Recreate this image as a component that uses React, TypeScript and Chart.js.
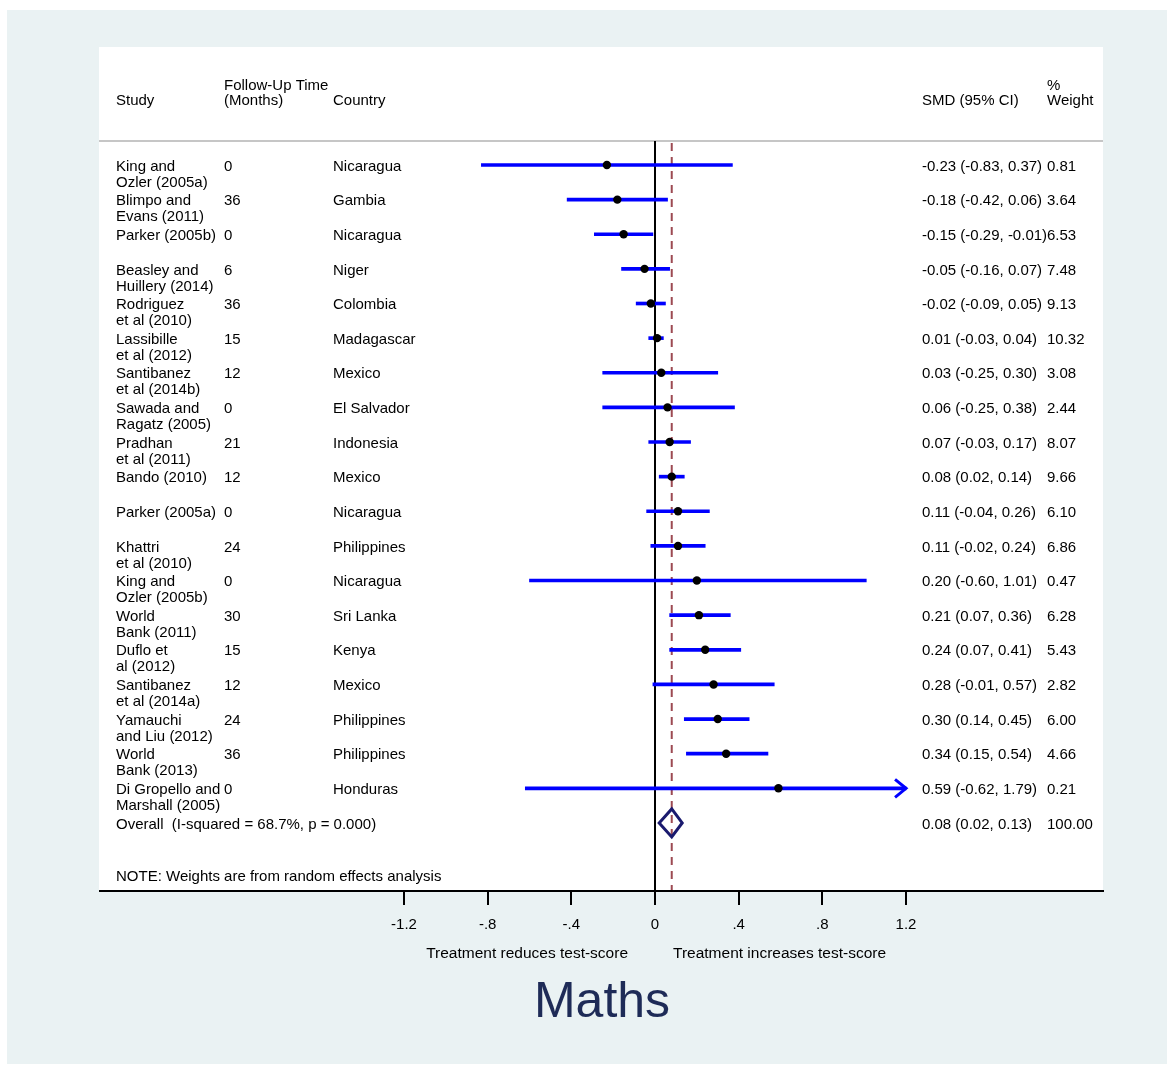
import React, { useEffect, useRef } from "react";
import { Chart, registerables } from "chart.js";

Chart.register(...registerables);

const STUDY_LABELS: string[][] = [
  ["King and", "Ozler (2005a)"],
  ["Blimpo and", "Evans (2011)"],
  ["Parker (2005b)"],
  ["Beasley and", "Huillery (2014)"],
  ["Rodriguez", "et al (2010)"],
  ["Lassibille", "et al (2012)"],
  ["Santibanez", "et al (2014b)"],
  ["Sawada and", "Ragatz (2005)"],
  ["Pradhan", "et al (2011)"],
  ["Bando (2010)"],
  ["Parker (2005a)"],
  ["Khattri", "et al (2010)"],
  ["King and", "Ozler (2005b)"],
  ["World", "Bank (2011)"],
  ["Duflo et", "al (2012)"],
  ["Santibanez", "et al (2014a)"],
  ["Yamauchi", "and Liu (2012)"],
  ["World", "Bank (2013)"],
  ["Di Gropello and", "Marshall (2005)"],
];
const FOLLOW_UP: number[] = [0, 36, 0, 6, 36, 15, 12, 0, 21, 12, 0, 24, 0, 30, 15, 12, 24, 36, 0];
const COUNTRIES: string[] = [
  "Nicaragua", "Gambia", "Nicaragua", "Niger", "Colombia", "Madagascar", "Mexico",
  "El Salvador", "Indonesia", "Mexico", "Nicaragua", "Philippines", "Nicaragua",
  "Sri Lanka", "Kenya", "Mexico", "Philippines", "Philippines", "Honduras",
];
const SMD: number[] = [-0.23, -0.18, -0.15, -0.05, -0.02, 0.01, 0.03, 0.06, 0.07, 0.08, 0.11, 0.11, 0.2, 0.21, 0.24, 0.28, 0.3, 0.34, 0.59];
const CI_LOW: number[] = [-0.83, -0.42, -0.29, -0.16, -0.09, -0.03, -0.25, -0.25, -0.03, 0.02, -0.04, -0.02, -0.6, 0.07, 0.07, -0.01, 0.14, 0.15, -0.62];
const CI_HIGH: number[] = [0.37, 0.06, -0.01, 0.07, 0.05, 0.04, 0.3, 0.38, 0.17, 0.14, 0.26, 0.24, 1.01, 0.36, 0.41, 0.57, 0.45, 0.54, 1.79];
const WEIGHTS: number[] = [0.81, 3.64, 6.53, 7.48, 9.13, 10.32, 3.08, 2.44, 8.07, 9.66, 6.1, 6.86, 0.47, 6.28, 5.43, 2.82, 6.0, 4.66, 0.21];

const OVERALL_LABEL = "Overall  (I-squared = 68.7%, p = 0.000)";
const OVERALL_SMD = 0.08;
const OVERALL_LOW = 0.02;
const OVERALL_HIGH = 0.13;
const OVERALL_WEIGHT = 100.0;

const NOTE_TEXT = "NOTE: Weights are from random effects analysis";
const X_TICKS: number[] = [-1.2, -0.8, -0.4, 0, 0.4, 0.8, 1.2];
const LEFT_SUBTITLE = "Treatment reduces test-score";
const RIGHT_SUBTITLE = "Treatment increases test-score";
const TITLE = "Maths";

const W = 1174;
const H = 1067;
const FONT = '"Liberation Sans", Arial, Helvetica, sans-serif';

const X_MIN = -2.653;
const X_MAX = 2.1415;
const Y_MIN = -3.407;
const Y_MAX = 20.965;
const SEP_ROW = -0.69;
const HEADER_ROW = -1.9;
const NOTE_ROW = 20.5;
const OVERALL_ROW = STUDY_LABELS.length;
const CLIP = X_TICKS[X_TICKS.length - 1];

const fmtTick = (v: number) => {
  if (Math.abs(v) < 1e-9) return "0";
  const s = Math.abs(v).toFixed(1).replace(/^0/, "");
  return (v < 0 ? "-" : "") + s;
};
const fmtCI = (e: number, l: number, h: number) => `${e.toFixed(2)} (${l.toFixed(2)}, ${h.toFixed(2)})`;

const forestPlugin = {
  id: "forestDecor",
  beforeDraw(chart: any) {
    const { ctx, chartArea: ca } = chart;
    const x = chart.scales.x;
    const y = chart.scales.y;
    ctx.save();
    ctx.fillStyle = "#ffffff";
    ctx.fillRect(0, 0, chart.width, chart.height);
    ctx.fillStyle = "#eaf2f3";
    ctx.fillRect(7, 10, 1160, 1054);
    ctx.fillStyle = "#ffffff";
    ctx.fillRect(ca.left - 1, ca.top, ca.right - ca.left + 1, ca.bottom - ca.top);
    const sepY = y.getPixelForValue(SEP_ROW);
    ctx.lineWidth = 2;
    ctx.strokeStyle = "#c6c6c6";
    ctx.beginPath();
    ctx.moveTo(ca.left - 1, sepY);
    ctx.lineTo(ca.right, sepY);
    ctx.stroke();
    const x0 = x.getPixelForValue(0);
    ctx.strokeStyle = "#000000";
    ctx.beginPath();
    ctx.moveTo(x0, sepY);
    ctx.lineTo(x0, ca.bottom);
    ctx.stroke();
    const xo = x.getPixelForValue(OVERALL_SMD);
    ctx.strokeStyle = "#9c4a52";
    ctx.setLineDash([8, 6]);
    ctx.beginPath();
    ctx.moveTo(xo, sepY + 2);
    ctx.lineTo(xo, ca.bottom);
    ctx.stroke();
    ctx.restore();
  },
  afterDatasetsDraw(chart: any) {
    const { ctx } = chart;
    const x = chart.scales.x;
    const y = chart.scales.y;
    ctx.save();
    ctx.strokeStyle = "#0000ff";
    ctx.lineWidth = 3;
    CI_HIGH.forEach((h, i) => {
      if (h > CLIP) {
        const tx = x.getPixelForValue(CLIP);
        const ty = y.getPixelForValue(i);
        ctx.beginPath();
        ctx.moveTo(tx - 11, ty - 9);
        ctx.lineTo(tx, ty);
        ctx.lineTo(tx - 11, ty + 9);
        ctx.stroke();
      }
    });
    const dy = y.getPixelForValue(OVERALL_ROW);
    ctx.strokeStyle = "#1a1a6e";
    ctx.lineWidth = 3;
    ctx.lineJoin = "miter";
    ctx.beginPath();
    ctx.moveTo(x.getPixelForValue(OVERALL_LOW), dy);
    ctx.lineTo(x.getPixelForValue(OVERALL_SMD), dy - 14);
    ctx.lineTo(x.getPixelForValue(OVERALL_HIGH), dy);
    ctx.lineTo(x.getPixelForValue(OVERALL_SMD), dy + 14);
    ctx.closePath();
    ctx.stroke();
    ctx.restore();
  },
  afterDraw(chart: any) {
    const { ctx, chartArea: ca } = chart;
    const x = chart.scales.x;
    const y = chart.scales.y;
    ctx.save();
    ctx.fillStyle = "#000000";
    ctx.font = `15px ${FONT}`;
    ctx.textBaseline = "middle";
    ctx.textAlign = "left";
    const dyText = 1.5;
    const cStudy = 116;
    const cFollow = 224;
    const cCountry = 333;
    const cSmd = 922;
    const cWeight = 1047;
    const hy = y.getPixelForValue(HEADER_ROW) + dyText;
    ctx.fillText("Study", cStudy, hy);
    ctx.fillText("Follow-Up Time", cFollow, hy - 15);
    ctx.fillText("(Months)", cFollow, hy);
    ctx.fillText("Country", cCountry, hy);
    ctx.fillText("SMD (95% CI)", cSmd, hy);
    ctx.fillText("%", cWeight, hy - 15);
    ctx.fillText("Weight", cWeight, hy);
    STUDY_LABELS.forEach((lines, i) => {
      const ry = y.getPixelForValue(i) + dyText;
      lines.forEach((t, k) => ctx.fillText(t, cStudy, ry + k * 16));
      ctx.fillText(String(FOLLOW_UP[i]), cFollow, ry);
      ctx.fillText(COUNTRIES[i], cCountry, ry);
      ctx.fillText(fmtCI(SMD[i], CI_LOW[i], CI_HIGH[i]), cSmd, ry);
      ctx.fillText(WEIGHTS[i].toFixed(2), cWeight, ry);
    });
    const oy = y.getPixelForValue(OVERALL_ROW) + dyText;
    ctx.fillText(OVERALL_LABEL, cStudy, oy);
    ctx.fillText(fmtCI(OVERALL_SMD, OVERALL_LOW, OVERALL_HIGH), cSmd, oy);
    ctx.fillText(OVERALL_WEIGHT.toFixed(2), cWeight, oy);
    ctx.fillText(NOTE_TEXT, cStudy, y.getPixelForValue(NOTE_ROW) + dyText);
    const x0 = x.getPixelForValue(0);
    const sy = ca.bottom + 63;
    ctx.font = `15.5px ${FONT}`;
    ctx.textAlign = "right";
    ctx.fillText(LEFT_SUBTITLE, x0 - 27, sy);
    ctx.textAlign = "left";
    ctx.fillText(RIGHT_SUBTITLE, x0 + 18, sy);
    ctx.fillStyle = "#1e2b57";
    ctx.font = `50px ${FONT}`;
    ctx.textAlign = "center";
    ctx.textBaseline = "alphabetic";
    ctx.fillText(TITLE, 602, 1017);
    ctx.restore();
  },
};

export default function App() {
  const ref = useRef<HTMLCanvasElement>(null);
  useEffect(() => {
    if (!ref.current) return;
    const chart = new Chart(ref.current, {
      type: "scatter",
      data: {
        datasets: [
          {
            type: "scatter",
            data: SMD.map((v, i) => ({ x: v, y: i })),
            pointRadius: 4.2,
            pointBackgroundColor: "#000000",
            pointBorderWidth: 0,
            order: 1,
          } as any,
          {
            type: "bar",
            indexAxis: "y",
            data: CI_LOW.map((lo, i) => ({ x: [lo, Math.min(CI_HIGH[i], CLIP)], y: i })),
            backgroundColor: "#0000ff",
            borderWidth: 0,
            borderSkipped: false,
            barThickness: 3,
            order: 2,
          } as any,
        ],
      },
      options: {
        responsive: false,
        animation: false,
        events: [],
        layout: { padding: { left: 100, right: W - 1103, top: 47, bottom: 0 } },
        plugins: { legend: { display: false }, tooltip: { enabled: false }, title: { display: false } },
        scales: {
          x: {
            type: "linear",
            position: "bottom",
            offset: false,
            min: X_MIN,
            max: X_MAX,
            afterBuildTicks: (s: any) => {
              s.ticks = X_TICKS.map((v) => ({ value: v }));
            },
            afterFit: (s: any) => {
              s.height = H - 891;
            },
            grid: {
              offset: false,
              drawOnChartArea: false,
              drawTicks: true,
              tickLength: 14,
              tickWidth: 2,
              tickColor: "#000000",
              color: "#000000",
              lineWidth: 2,
            },
            border: { display: true, color: "#000000", width: 2 },
            ticks: {
              font: { family: FONT, size: 15 },
              color: "#000000",
              padding: 11,
              maxRotation: 0,
              autoSkip: false,
              callback: (v: any) => fmtTick(Number(v)),
            },
          },
          y: {
            type: "linear",
            display: false,
            offset: false,
            grid: { offset: false },
            reverse: true,
            min: Y_MIN,
            max: Y_MAX,
          },
        },
      },
      plugins: [forestPlugin],
    } as any);
    return () => chart.destroy();
  }, []);
  return (
    <div style={{ position: "fixed", left: 0, top: 0, width: W, height: H }}>
      <canvas ref={ref} width={W} height={H} style={{ display: "block", width: W, height: H }} />
    </div>
  );
}
